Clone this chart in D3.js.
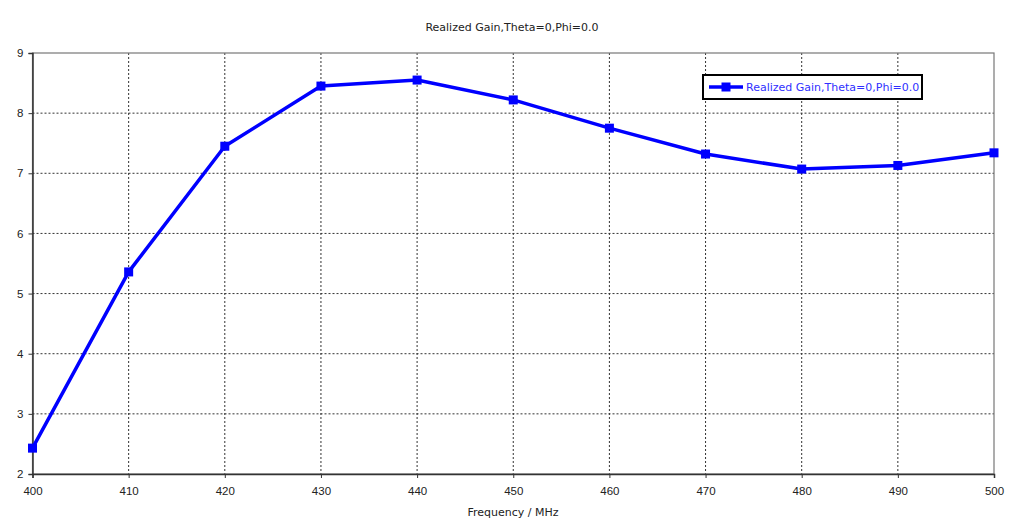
<!DOCTYPE html>
<html lang="en">
<head>
  <meta charset="UTF-8">
  <title>Realized Gain</title>
  <script src="https://d3js.org/d3.v7.min.js"></script>
  <style>
    body { margin: 0; background: #fff; font-family: "DejaVu Sans", Tahoma, sans-serif; }
    svg text { font-size: 11px; fill: #222; }
  </style>
</head>
<body>
  <svg id="chart" width="1024" height="525"></svg>
  <script>
    const freqs = [400, 410, 420, 430, 440, 450, 460, 470, 480, 490, 500];
    const gains = [2.43, 5.36, 7.45, 8.45, 8.55, 8.22, 7.75, 7.32, 7.07, 7.13, 7.34];
    const xTicks = [400, 410, 420, 430, 440, 450, 460, 470, 480, 490, 500];
    const yTicks = [2, 3, 4, 5, 6, 7, 8, 9];
    const seriesName = "Realized Gain,Theta=0,Phi=0.0";

    const svg = d3.select("#chart");
    const margin = { left: 32.5, right: 30, top: 53, bottom: 51 };
    const width = +svg.attr("width");
    const height = +svg.attr("height");

    const x = d3.scaleLinear().domain([400, 500]).range([margin.left, width - margin.right]);
    const y = d3.scaleLinear().domain([2, 9]).range([height - margin.bottom, margin.top]);

    // grid
    svg.append("g").selectAll("line").data(xTicks.slice(1, -1)).enter().append("line")
      .attr("x1", d => x(d)).attr("x2", d => x(d))
      .attr("y1", y(9)).attr("y2", y(2))
      .attr("stroke", "#333").attr("stroke-width", 1).attr("stroke-dasharray", "2,2");
    svg.append("g").selectAll("line").data(yTicks.slice(1, -1)).enter().append("line")
      .attr("x1", x(400)).attr("x2", x(500))
      .attr("y1", d => y(d)).attr("y2", d => y(d))
      .attr("stroke", "#333").attr("stroke-width", 1).attr("stroke-dasharray", "2,2");

    // frame
    svg.append("rect")
      .attr("x", x(400)).attr("y", y(9))
      .attr("width", x(500) - x(400)).attr("height", y(2) - y(9))
      .attr("fill", "none").attr("stroke", "#777").attr("stroke-width", 1.2);

    const xAxis = svg.append("g")
      .attr("transform", "translate(0," + y(2) + ")")
      .call(d3.axisBottom(x).tickValues(xTicks).tickSize(4).tickFormat(d3.format("d")));
    xAxis.select(".domain").attr("stroke", "#333").attr("stroke-width", 1.5);
    xAxis.selectAll(".tick line").attr("stroke", "#333");
    xAxis.selectAll("text").attr("dy", "1.2em").style("font-size", "11.5px").style("fill", "#222");

    const yAxis = svg.append("g")
      .attr("transform", "translate(" + x(400) + ",0)")
      .call(d3.axisLeft(y).tickValues(yTicks).tickSize(4).tickFormat(d3.format("d")));
    yAxis.select(".domain").attr("stroke", "#333").attr("stroke-width", 1.5);
    yAxis.selectAll(".tick line").attr("stroke", "#333");
    yAxis.selectAll("text").attr("x", -9).style("font-size", "11.5px").style("fill", "#222");

    // title & axis label
    svg.append("text").attr("x", 512).attr("y", 31).attr("text-anchor", "middle").text(seriesName);
    svg.append("text").attr("x", 513).attr("y", 516).attr("text-anchor", "middle").text("Frequency / MHz");

    // line
    const data = freqs.map((f, i) => ({ f: f, g: gains[i] }));
    svg.append("path").datum(data)
      .attr("fill", "none").attr("stroke", "#0000ff").attr("stroke-width", 3.5)
      .attr("stroke-linejoin", "round")
      .attr("d", d3.line().x(d => x(d.f)).y(d => y(d.g)));
    svg.append("g").selectAll("rect").data(data).enter().append("rect")
      .attr("x", d => x(d.f) - 4.5).attr("y", d => y(d.g) - 4.5)
      .attr("width", 9).attr("height", 9).attr("fill", "#0000ff");

    // legend
    const lg = svg.append("g").attr("transform", "translate(703,75)");
    lg.append("rect").attr("width", 219).attr("height", 24)
      .attr("fill", "#fff").attr("stroke", "#000").attr("stroke-width", 2);
    lg.append("line").attr("x1", 6).attr("x2", 40).attr("y1", 12).attr("y2", 12)
      .attr("stroke", "#0000ff").attr("stroke-width", 3.5);
    lg.append("rect").attr("x", 18.5).attr("y", 7.5).attr("width", 9).attr("height", 9).attr("fill", "#0000ff");
    lg.append("text").attr("x", 43).attr("y", 16).style("fill", "#3030ff").text(seriesName);
  </script>
</body>
</html>
